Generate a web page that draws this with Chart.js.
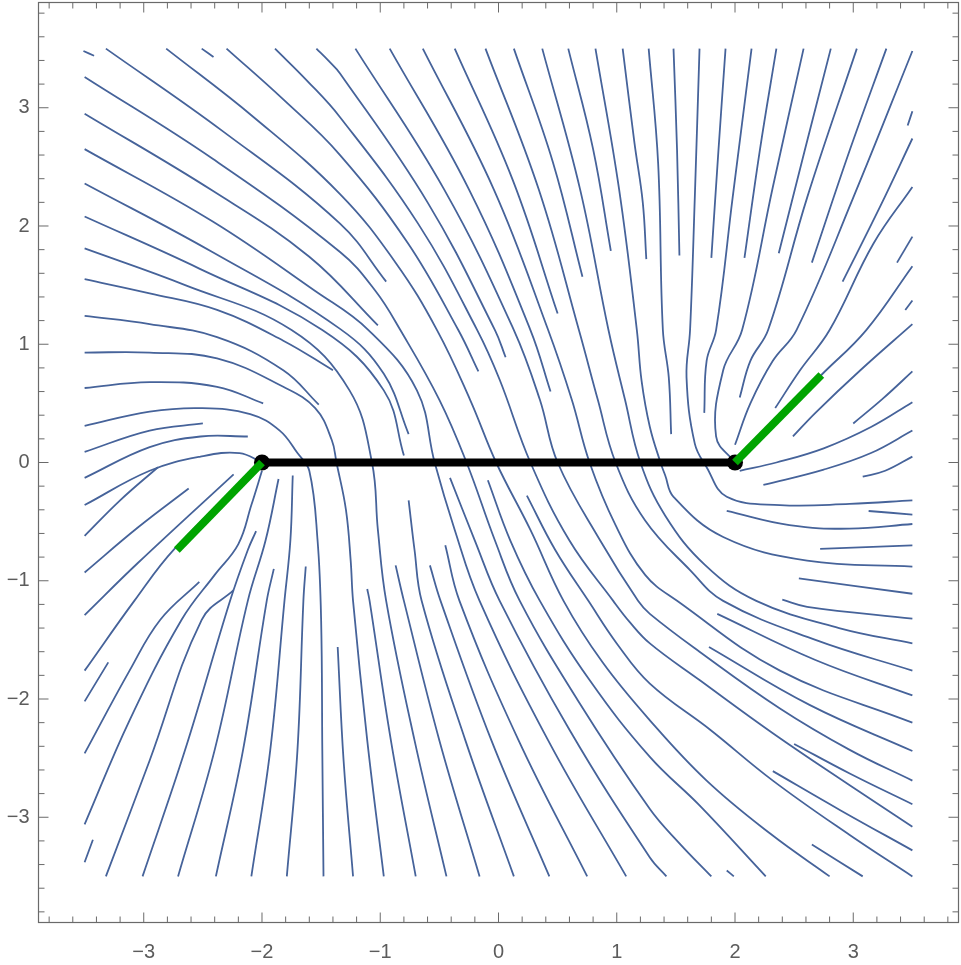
<!DOCTYPE html>
<html><head><meta charset="utf-8">
<script src="https://cdn.jsdelivr.net/npm/chart.js@4.4.0/dist/chart.umd.min.js"></script>
<style>html,body{margin:0;padding:0;background:#fff;}canvas{display:block;}</style>
</head><body>
<canvas id="c" width="961" height="965"></canvas>
<script>
// ---- streamlines, [x, y] in axis units ----
const upperLeftLines = [
  [[-3.51,3.48],[-3.42,3.44]],
  [[-2.51,3.5],[-2.41,3.43]],
  [[-1.54,3.50],[-1.44,3.40],[-1.34,3.29],[-0.60,2.20],[-0.03,1.12],[0.06,0.89]],
  [[-2.30,3.50],[-1.82,3.07],[-1.34,2.60],[-0.77,1.86],[-0.34,1.12],[-0.17,0.77]],
  [[-3.32,3.50],[-2.33,2.80],[-1.34,2.02],[-0.95,1.53]],
  [[-3.5,2.95],[-2.42,2.30],[-1.60,1.74],[-1.02,1.16]],
  [[-3.5,2.36],[-2.42,1.78],[-1.34,1.13],[-0.97,0.75],[-0.76,0.24]],
  [[-3.5,2.08],[-2.53,1.64],[-1.49,1.12],[-0.97,0.61],[-0.80,0.06]],
  [[-3.5,1.55],[-2.95,1.43],[-2.38,1.29],[-1.82,1.03],[-1.40,0.78]],
  [[-3.5,1.24],[-2.95,1.17],[-2.38,1.06],[-1.82,0.78],[-1.52,0.49]],
  [[-3.5,0.63],[-2.95,0.68],[-2.38,0.64],[-1.99,0.50]],
  [[-3.5,0.09],[-2.95,0.27],[-2.50,0.33]],
  [[-3.5,-0.13],[-2.95,0.13],[-2.52,0.22],[-2.12,0.22]],
  [[-3.5,-0.36],[-2.95,-0.07],[-2.52,0.05],[-2.19,0.08],[-2.0,0.0]],
  [[-0.92,3.5],[-0.25,2.31],[0.27,1.12],[0.44,0.60]],
  [[-0.37,3.5],[0.12,2.39],[0.50,1.26]],
  [[0.13,3.5],[0.46,2.54],[0.71,1.57]],
  [[0.59,3.5],[0.80,2.65],[0.95,1.79]],
  [[1.05,3.5],[1.15,2.70],[1.22,2.20],[1.25,1.72]]
];
const throughLines = [
  [[-1.89,3.50],[-1.62,3.23],[-1.34,2.92],[-0.68,2.02],[-0.18,1.12],[0.01,0.70],[0.27,0.0],[0.60,-0.66],[0.97,-1.17],[1.11,-1.35],[1.28,-1.53],[1.70,-1.84],[2.32,-2.29],[2.97,-2.73],[3.5,-3.08]],
  [[-2.81,3.50],[-2.07,2.92],[-1.34,2.27],[-0.87,1.69],[-0.52,1.12],[-0.24,0.53],[-0.02,0.0],[0.27,-0.57],[0.55,-1.17],[0.88,-1.69],[1.28,-2.18],[1.76,-2.69],[2.30,-3.14],[2.80,-3.50]],
  [[-3.5,3.26],[-2.42,2.57],[-1.34,1.78],[-1.04,1.45],[-0.83,1.12],[-0.50,0.53],[-0.27,0.0],[-0.03,-0.66],[0.18,-1.17],[0.67,-2.01],[1.28,-2.93],[1.53,-3.22],[1.80,-3.50]],
  [[-3.5,2.65],[-2.42,2.04],[-1.55,1.45],[-1.10,1.12],[-0.69,0.61],[-0.54,0.0],[-0.37,-0.57],[-0.16,-1.17],[0.42,-2.35],[1.08,-3.5]],
  [[-3.5,1.81],[-2.65,1.50],[-1.75,1.12],[-1.26,0.61],[-1.07,0.0],[-1.02,-0.57],[-0.95,-1.17],[-0.71,-2.35],[-0.44,-3.5]],
  [[-3.5,0.93],[-2.95,0.93],[-2.38,0.88],[-1.82,0.64],[-1.55,0.46],[-1.41,0.19],[-1.37,0.0],[-1.29,-0.40],[-1.25,-0.83],[-1.23,-1.17],[-1.11,-2.35],[-0.97,-3.5]],
  [[-3.5,0.31],[-2.95,0.43],[-2.52,0.46],[-2.10,0.41],[-1.85,0.27],[-1.70,0.08],[-1.60,-0.07],[-1.53,-0.66],[-1.50,-1.33],[-1.49,-2.43],[-1.48,-3.5]],
  [[-1.21,3.5],[-0.46,2.31],[0.13,1.12],[0.35,0.53],[0.50,0.0],[0.86,-0.66],[1.18,-1.17],[1.28,-1.28],[1.70,-1.60],[2.38,-2.08],[2.97,-2.43],[3.5,-2.69]],
  [[-0.64,3.5],[-0.04,2.31],[0.42,1.12],[0.62,0.53],[0.77,0.0],[0.99,-0.53],[1.24,-0.95],[1.51,-1.17],[2.38,-1.76],[3.5,-2.20]],
  [[-0.11,3.5],[0.34,2.31],[0.68,1.12],[0.84,0.53],[0.99,0.0],[1.24,-0.49],[1.62,-0.91],[1.90,-1.17],[2.68,-1.50],[3.5,-1.76]],
  [[0.37,3.5],[0.69,2.31],[0.93,1.12],[1.07,0.53],[1.20,0.0],[1.41,-0.45],[1.75,-0.87],[2.18,-1.17],[2.88,-1.40],[3.5,-1.53]],
  [[0.82,3.5],[1.02,2.31],[1.17,1.12],[1.21,0.69],[1.28,0.30],[1.37,0.0],[1.41,-0.11],[1.48,-0.29],[1.90,-0.63],[2.61,-0.83],[3.5,-0.88]],
  [[1.70,3.5],[1.66,2.24],[1.62,1.12],[1.59,0.72],[1.66,0.16],[1.76,-0.04],[1.93,-0.29],[2.38,-0.36],[2.97,-0.35],[3.5,-0.32]]
];
const upperRightLines = [
  [[1.27,3.5],[1.35,2.53],[1.39,1.12],[1.44,0.72],[1.46,0.24]],
  [[1.48,3.5],[1.51,2.64],[1.53,1.75]],
  [[1.92,3.5],[1.86,2.64],[1.80,1.73]],
  [[2.14,3.5],[1.98,2.24],[1.84,1.12],[1.76,0.86],[1.74,0.42]],
  [[2.35,3.5],[2.21,2.64],[2.08,1.73]],
  [[2.58,3.5],[2.32,2.33],[2.06,1.12],[1.90,0.78],[1.84,0.22],[2.0,0.0]],
  [[2.81,3.5],[2.59,2.64],[2.37,1.77]],
  [[3.03,3.5],[2.61,2.24],[2.28,1.12],[2.13,0.86],[2.04,0.55]],
  [[3.28,3.5],[2.97,2.64],[2.65,1.69]],
  [[3.5,3.48],[3.0,2.24],[2.52,1.12],[2.32,0.86],[2.13,0.50],[2.0,0.15]],
  [[3.5,2.97],[3.46,2.85]],
  [[3.5,2.74],[3.23,2.17],[2.91,1.53]],
  [[3.5,2.33],[3.17,1.85],[2.80,1.12],[2.55,0.78],[2.34,0.46]],
  [[3.5,1.91],[3.37,1.69]],
  [[3.5,1.66],[3.11,1.12],[2.73,0.74],[2.0,0.0]],
  [[3.5,1.37],[3.44,1.29]],
  [[3.5,1.17],[3.06,0.78],[2.68,0.42],[2.49,0.22]],
  [[3.5,0.77],[3.25,0.54],[3.0,0.33]],
  [[3.5,0.51],[3.15,0.30],[2.75,0.12],[2.35,0.0],[2.04,-0.07]],
  [[3.5,0.27],[3.15,0.08],[2.75,-0.06],[2.24,-0.19]],
  [[3.5,0.05],[3.27,-0.07],[3.08,-0.12]],
  [[3.13,-0.41],[3.5,-0.44]],
  [[3.5,-0.52],[2.97,-0.56],[2.46,-0.53],[1.93,-0.41]],
  [[3.5,-0.70],[2.72,-0.73]],
  [[3.5,-1.11],[2.54,-0.98]],
  [[3.5,-1.32],[2.61,-1.22],[2.40,-1.16]]
];
const lowerLines = [
  [[1.85,-1.28],[2.68,-1.67],[3.5,-1.97]],
  [[1.78,-1.56],[2.63,-2.05],[3.5,-2.44]],
  [[2.50,-2.38],[2.97,-2.63],[3.5,-2.89]],
  [[2.32,-2.61],[2.89,-2.94],[3.5,-3.28]],
  [[2.65,-3.23],[3.08,-3.5]],
  [[1.93,-3.45],[1.99,-3.5]],
  [[-1.11,-1.07],[-1.09,-1.17],[-0.91,-2.35],[-0.70,-3.5]],
  [[-0.87,-0.87],[-0.80,-1.17],[-0.50,-2.35],[-0.16,-3.5]],
  [[-0.76,-0.32],[-0.71,-0.74],[-0.65,-1.17],[-0.28,-2.35],[0.13,-3.5]],
  [[-0.58,-0.87],[-0.49,-1.17],[-0.06,-2.35],[0.43,-3.5]],
  [[-0.45,-0.70],[-0.33,-1.17],[0.17,-2.35],[0.75,-3.5]],
  [[-0.41,-0.13],[-0.20,-0.66],[0.01,-1.17],[0.60,-2.26],[1.28,-3.34],[1.42,-3.5]],
  [[-0.09,-0.15],[0.10,-0.66],[0.35,-1.17],[0.77,-1.84],[1.28,-2.49],[1.70,-2.90],[2.26,-3.5]],
  [[0.24,-0.28],[0.48,-0.74],[0.76,-1.17],[1.0,-1.53],[1.28,-1.87],[1.79,-2.26],[2.32,-2.69],[2.97,-3.15],[3.5,-3.5]],
  [[-1.36,-1.56],[-1.31,-2.52],[-1.23,-3.5]]
];
const lowerLeftLines = [
  [[-3.5,-1.29],[-3.05,-0.85],[-2.24,-0.10]],
  [[-3.5,-1.76],[-3.08,-1.17],[-2.74,-0.73],[-2.0,0.0]],
  [[-3.5,-2.02],[-3.30,-1.69]],
  [[-3.5,-2.46],[-3.12,-1.76],[-2.86,-1.33],[-2.53,-1.01]],
  [[-3.5,-3.06],[-3.12,-2.18],[-2.68,-1.33],[-2.40,-0.95],[-2.20,-0.69],[-2.09,-0.36],[-2.0,-0.07]],
  [[-3.5,-3.38],[-3.43,-3.19]],
  [[-3.32,-3.5],[-2.95,-2.52],[-2.51,-1.33],[-2.24,-1.08]],
  [[-3.01,-3.5],[-2.65,-2.43],[-2.27,-1.17],[-2.12,-0.74],[-2.05,-0.58]],
  [[-2.71,-3.5],[-2.40,-2.43],[-2.12,-1.17],[-1.97,-0.66],[-1.86,-0.14]],
  [[-2.39,-3.5],[-2.16,-2.43],[-1.96,-1.17],[-1.90,-0.90]],
  [[-2.09,-3.5],[-1.93,-2.43],[-1.81,-1.17],[-1.76,-0.66],[-1.74,-0.11]],
  [[-1.79,-3.5],[-1.70,-2.43],[-1.65,-1.17],[-1.63,-0.88]],
  [[-3.5,-0.62],[-3.20,-0.32],[-2.88,-0.04]],
  [[-3.5,-0.93],[-3.05,-0.55],[-2.62,-0.22]]
];
const branchCut = [[-2,0],[2,0]];
const branchPoints = [[-2,0],[2,0]];
const greenLeft = [[-2,0],[-2.72,-0.74]];
const greenRight = [[2,0],[2.73,0.74]];
const tickValues = [-3,-2,-1,0,1,2,3];
const axisMin = -3.89, axisMax = 3.89;

const STREAM = '#46639a';
const AXIS = '#6a6a6a';
const toXY = pts => pts.map(p => ({x: p[0], y: p[1]}));
const allLines = [].concat(upperLeftLines, throughLines, upperRightLines, lowerLines, lowerLeftLines);

const datasets = allLines.map(pts => ({
  data: toXY(pts), showLine: true, borderColor: STREAM, borderWidth: 1.8,
  pointRadius: 0, tension: 0.4, fill: false, order: 10
}));
datasets.push({data: toXY(branchCut), showLine: true, borderColor: '#000', borderWidth: 8, pointRadius: 0, order: 4});
datasets.push({data: toXY(branchPoints), showLine: false, pointRadius: 8, pointBackgroundColor: '#000', pointBorderColor: '#000', pointBorderWidth: 0, order: 3});
datasets.push({data: toXY(greenLeft), showLine: true, borderColor: '#00a400', borderWidth: 8, pointRadius: 0, order: 2});
datasets.push({data: toXY(greenRight), showLine: true, borderColor: '#00a400', borderWidth: 8, pointRadius: 0, order: 2});

const fmt = v => v < 0 ? '\u2212' + Math.abs(v) : String(v);
const tickFont = {family: 'Liberation Sans, Arial, sans-serif', size: 20};

const framePlugin = {
  id: 'frame',
  afterDatasetsDraw(chart) {
    const {ctx, chartArea: a, scales: {x, y}} = chart;
    ctx.save();
    ctx.strokeStyle = AXIS;
    ctx.lineWidth = 1.2;
    ctx.strokeRect(a.left, a.top, a.right - a.left, a.bottom - a.top);
    ctx.lineWidth = 1;
    ctx.beginPath();
    for (let i = -19; i <= 19; i++) {
      const v = i / 5;
      const major = i % 5 === 0;
      const len = major ? 10 : 6;
      const px = x.getPixelForValue(v), py = y.getPixelForValue(v);
      ctx.moveTo(px, a.bottom); ctx.lineTo(px, a.bottom - len);
      ctx.moveTo(px, a.top); ctx.lineTo(px, a.top + len);
      ctx.moveTo(a.left, py); ctx.lineTo(a.left + len, py);
      ctx.moveTo(a.right, py); ctx.lineTo(a.right - len, py);
    }
    ctx.stroke();
    ctx.restore();
  }
};

const zeroPad = s => { s.paddingTop = 0; s.paddingBottom = 0; s.paddingLeft = 0; s.paddingRight = 0; };

new Chart(document.getElementById('c'), {
  type: 'scatter',
  data: {datasets},
  options: {
    responsive: false, animation: false, devicePixelRatio: 1,
    layout: {autoPadding: false, padding: {left: 0, right: 2.5, top: 2.5, bottom: 0}},
    plugins: {legend: {display: false}, tooltip: {enabled: false}},
    scales: {
      x: {
        type: 'linear', min: axisMin, max: axisMax,
        grid: {display: false, drawTicks: false}, border: {display: false},
        afterBuildTicks: s => { s.ticks = tickValues.map(v => ({value: v})); },
        afterFit: s => { s.height = 42.5; zeroPad(s); },
        ticks: {callback: v => fmt(v), font: tickFont, color: '#5c5c5c', padding: 18, maxRotation: 0, autoSkip: false}
      },
      y: {
        type: 'linear', min: axisMin, max: axisMax,
        grid: {display: false, drawTicks: false}, border: {display: false},
        afterBuildTicks: s => { s.ticks = tickValues.map(v => ({value: v})); },
        afterFit: s => { s.width = 38.5; zeroPad(s); },
        ticks: {callback: v => fmt(v), font: tickFont, color: '#5c5c5c', padding: 9, autoSkip: false}
      }
    }
  },
  plugins: [framePlugin]
});
</script>
</body></html>
